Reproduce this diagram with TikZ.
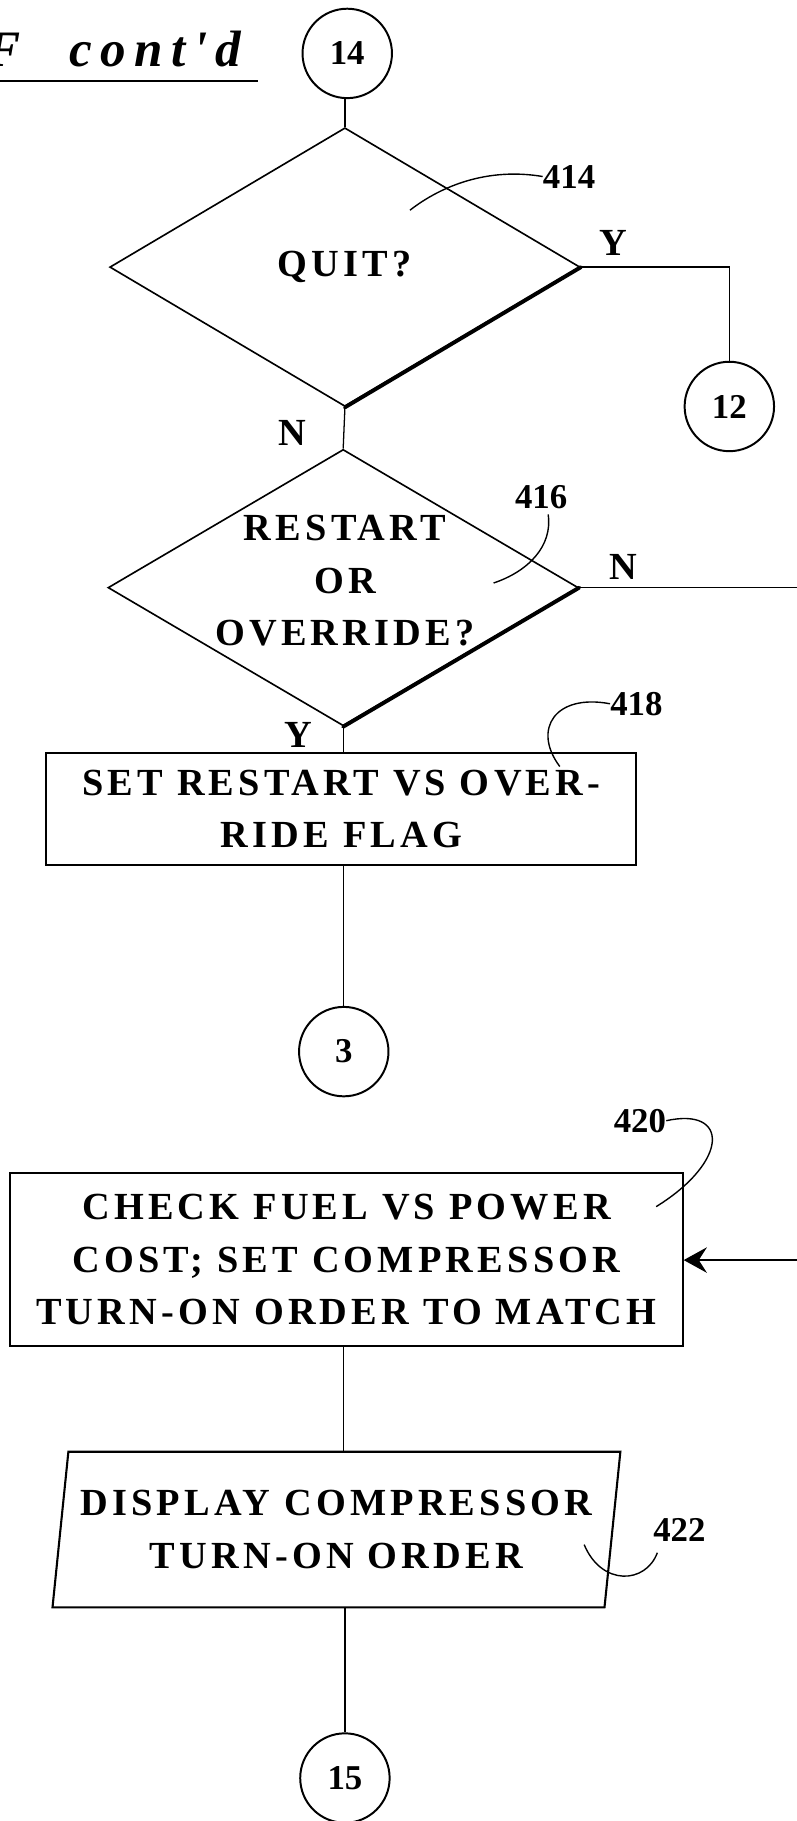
\documentclass[tikz,border=0pt]{standalone}
\usepackage{fontspec}
\setmainfont{Liberation Serif}
\newfontfamily\spacedfont[LetterSpace=11]{Liberation Serif}
\newfontfamily\titlefont[LetterSpace=16]{Liberation Serif}
\usetikzlibrary{shapes.geometric,arrows.meta}
\newcommand\boxtext{\spacedfont\bfseries\fontsize{33}{45}\selectfont}
\newcommand\numtext{\bfseries\fontsize{30}{36}\selectfont}
\begin{document}
\begin{tikzpicture}[x=1pt,y=-1pt,
  conn/.style={line width=1.1pt},
  heavy/.style={line width=3.4pt},
  leader/.style={line width=1.2pt},
  boxst/.style={draw,rectangle,line width=1.8pt,inner sep=0pt,align=center,font=\boxtext},
  circ/.style={draw,circle,line width=1.7pt,minimum size=77pt,inner sep=0pt,font=\numtext},
  dia/.style={draw,diamond,line width=1.4pt,inner sep=0pt},
  para/.style={draw,trapezium,trapezium left angle=79,trapezium right angle=101,
    trapezium stretches=true,line width=1.8pt,inner sep=0pt,align=center,font=\boxtext},
  txt/.style={align=center,font=\boxtext,inner sep=0pt},
  lab/.style={font=\numtext,inner sep=0pt},
  yn/.style={font=\boxtext,inner sep=0pt}]
\useasboundingbox (0,0) rectangle (686,1568);

% title
\node[anchor=base east,inner sep=0pt,font=\titlefont\fontsize{44}{50}\selectfont\bfseries\itshape] (title) at (208,57.5) {F~~\kern6pt cont'd};
\draw[line width=1.8pt] (0,70) -- (222,70);

% nodes
\node[circ] (c14) at (299,46) {14};
\node[dia,minimum width=405pt,minimum height=240pt] (d414) at (297,230) {};
\node[txt] (t414) at (d414.center) {QUIT?};
\node[circ] (c12) at (628,350) {12};
\node[dia,minimum width=405pt,minimum height=238pt] (d416) at (295.5,506) {};
\node[txt] (t416) at (297,500) {RESTART\\OR\\OVERRIDE?};
\node[boxst,minimum width=508pt,minimum height=96pt] (b418) at (294,696.5) {SET RESTART VS OVER-\\RIDE FLAG};
\node[circ] (c3) at (296,905.5) {3};
\node[boxst,minimum width=579pt,minimum height=149pt] (b420) at (298.3,1084.7) {CHECK FUEL VS POWER\\COST; SET COMPRESSOR\\TURN-ON ORDER TO MATCH};
\node[para,minimum width=490pt,minimum height=134pt] (p422) at (289.7,1317) {DISPLAY COMPRESSOR\\TURN-ON ORDER};
\node[circ] (c15) at (297,1531) {15};

% heavy lower-right edges of the decisions
\draw[heavy,line cap=round] (d414.east) -- (d414.south);
\draw[heavy,line cap=round] (d416.east) -- (d416.south);

% reference numerals
\node[lab] (n414) at (490,152) {414};
\node[lab] (n416) at (466,428) {416};
\node[lab] (n418) at (548,606) {418};
\node[lab] (n420) at (551,965) {420};
\node[lab] (n422) at (585,1317) {422};
\draw[leader] (n414.west) .. controls (420,144) and (380,160) .. (353,181);
\draw[leader] (472,443) .. controls (476,470) and (455,492) .. (425,502);
\draw[leader] (n418.west) .. controls (478,597) and (458,628) .. (482,660);
\draw[leader] (n420.east) .. controls (628,953) and (628,1000) .. (565,1039);
\draw[leader] (566,1337) .. controls (556,1364) and (518,1366) .. (503,1330);

% Y/N labels
\node[yn] (y414) at (528,209) {Y};
\node[yn] (n414l) at (252,373) {N};
\node[yn] (n416r) at (537,488) {N};
\node[yn] (y416) at (257,633) {Y};

% connectors
\coordinate (edgeA) at (686,506);
\coordinate (edgeB) at (686,1085);
\draw[conn] (d414.north |- c14.south) -- (d414.north);
\draw[conn] (d414.east) -- (c12.north |- d414.east) -- (c12.north);
\draw[conn] (d414.south) -- (d416.north);
\draw[conn] (d416.east) -- (edgeA);
\draw[conn] (d416.south) -- (d416.south |- b418.north);
\draw[conn] (c3.north |- b418.south) -- (c3.north);
\draw[conn,-{Stealth[length=20pt,width=22pt,inset=7pt]}] (edgeB) -- (b420.east |- edgeB);
\draw[conn] (c3.north |- b420.south) -- (c3.north |- p422.north);
\draw[conn] (c15.north |- p422.south) -- (c15.north);
\end{tikzpicture}
\end{document}
